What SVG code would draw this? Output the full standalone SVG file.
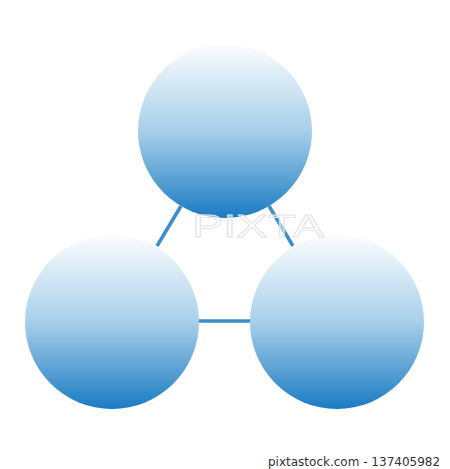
<svg xmlns="http://www.w3.org/2000/svg" width="450" height="469" viewBox="0 0 450 469">
<defs>
<linearGradient id="g" x1="0" y1="0" x2="0" y2="1">
<stop offset="0" stop-color="#fbfdff"/>
<stop offset="0.5" stop-color="#a8cfe9"/>
<stop offset="1" stop-color="#1a7bc2"/>
</linearGradient>
<style>
.n{fill:url(#g)}
.c{stroke:#3a8fcb;stroke-width:3.5;fill:none}
.wm{font-family:"Liberation Sans",Arial,sans-serif;font-size:32px;fill:#ffffff;fill-opacity:0.5;stroke:#e2e2e2;stroke-width:0.8}
.cap{font-family:"DejaVu Sans","Liberation Sans",sans-serif;font-size:12px;fill:#333}
</style>
</defs>
<rect width="450" height="469" fill="#ffffff"/>
<g id="connectors">
<line class="c" x1="181" y1="206" x2="157" y2="246"/>
<line class="c" x1="269" y1="206" x2="293" y2="246"/>
<line class="c" x1="196" y1="321" x2="253" y2="321"/>
</g>
<g id="node-top"><circle class="n" cx="225" cy="131" r="87"/></g>
<g id="node-left"><circle class="n" cx="112" cy="322" r="87"/></g>
<g id="node-right"><circle class="n" cx="337" cy="322" r="87"/></g>
<text class="wm" x="192" y="237" textLength="132" lengthAdjust="spacingAndGlyphs">PIXTA</text>
<text class="cap" x="268" y="466">pixtastock.com - 137405982</text>
</svg>
